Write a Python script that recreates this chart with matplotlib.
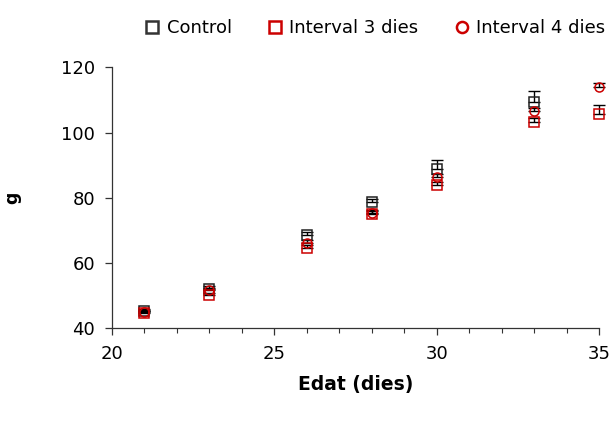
import matplotlib
matplotlib.use("Agg")
import matplotlib.pyplot as plt
from matplotlib.ticker import MultipleLocator
from matplotlib.lines import Line2D

days_control = [21, 23, 26, 28, 30, 33]
control = [45.2, 52.2, 68.6, 78.8, 88.8, 109.5]
control_err = [0.8, 0.8, 1.0, 0.8, 2.8, 3.3]

days_int3 = [21, 23, 26, 28, 30, 33, 35]
int3 = [44.8, 50.2, 64.6, 75.0, 83.8, 103.1, 105.7]
int3_err = [0.5, 0.7, 1.0, 1.0, 1.2, 1.5, 2.8]

days_int4 = [21, 23, 26, 28, 30, 33, 35]
int4 = [45.0, 51.6, 66.2, 75.4, 86.4, 106.5, 113.9]
int4_err = [0.7, 0.8, 1.0, 0.8, 1.0, 1.0, 1.3]

labels = ["Control", "Interval 3 dies", "Interval 4 dies"]
BLACK = "#222222"
RED = "#CC0000"

plt.rcParams['font.family'] = ['DejaVu Sans']
fig = plt.figure(figsize=(6.13, 4.21), dpi=100)
ax = fig.add_axes([0.1822, 0.2202, 0.795, 0.6198])

def series(x, y, e, marker, color):
    ax.errorbar(x, y, yerr=[[0]*len(e), e], fmt='none', ecolor='black',
                elinewidth=1.0, capsize=4.5, capthick=1.0, clip_on=False, zorder=3)
    ax.plot(x, y, linestyle='none', marker=marker, markersize=6.5,
            markerfacecolor='none', markeredgecolor=color, markeredgewidth=1.1,
            clip_on=False, zorder=4)

series(days_control, control, control_err, 's', BLACK)
series(days_int3, int3, int3_err, 's', RED)
series(days_int4, int4, int4_err, 'o', RED)

ax.set_xlim(20, 35)
ax.set_ylim(40, 120)
ax.xaxis.set_major_locator(MultipleLocator(5))
ax.xaxis.set_minor_locator(MultipleLocator(1))
ax.yaxis.set_major_locator(MultipleLocator(20))
for s in ['top', 'right']:
    ax.spines[s].set_visible(False)
for s in ['left', 'bottom']:
    ax.spines[s].set_color('#333333')
    ax.spines[s].set_linewidth(0.9)
ax.tick_params(axis='both', which='major', direction='out', length=5, width=0.9,
               labelsize=13, colors='#333333', labelcolor='black', pad=7)
ax.tick_params(axis='x', which='minor', direction='out', length=3.5, width=0.8,
               colors='#333333')
ax.set_xlabel("Edat (dies)", fontsize=13.5, fontweight='bold')
ax.xaxis.set_label_coords(0.5, -0.18)
ax.set_ylabel("g", fontsize=12.5, fontweight='bold')
ax.yaxis.set_label_coords(-0.185, 0.5)

handles = [
    Line2D([], [], linestyle='none', marker='s', markersize=8, markerfacecolor='none',
           markeredgecolor='#333333', markeredgewidth=1.8),
    Line2D([], [], linestyle='none', marker='s', markersize=8, markerfacecolor='none',
           markeredgecolor=RED, markeredgewidth=1.8),
    Line2D([], [], linestyle='none', marker='o', markersize=8, markerfacecolor='none',
           markeredgecolor=RED, markeredgewidth=1.8),
]
fig.legend(handles, labels, loc='center', bbox_to_anchor=(0.612, 0.933), ncol=3,
           frameon=False, fontsize=13, handlelength=0.8, handletextpad=0.4,
           columnspacing=2.0, borderaxespad=0)

fig.savefig("out.png", dpi=100)
